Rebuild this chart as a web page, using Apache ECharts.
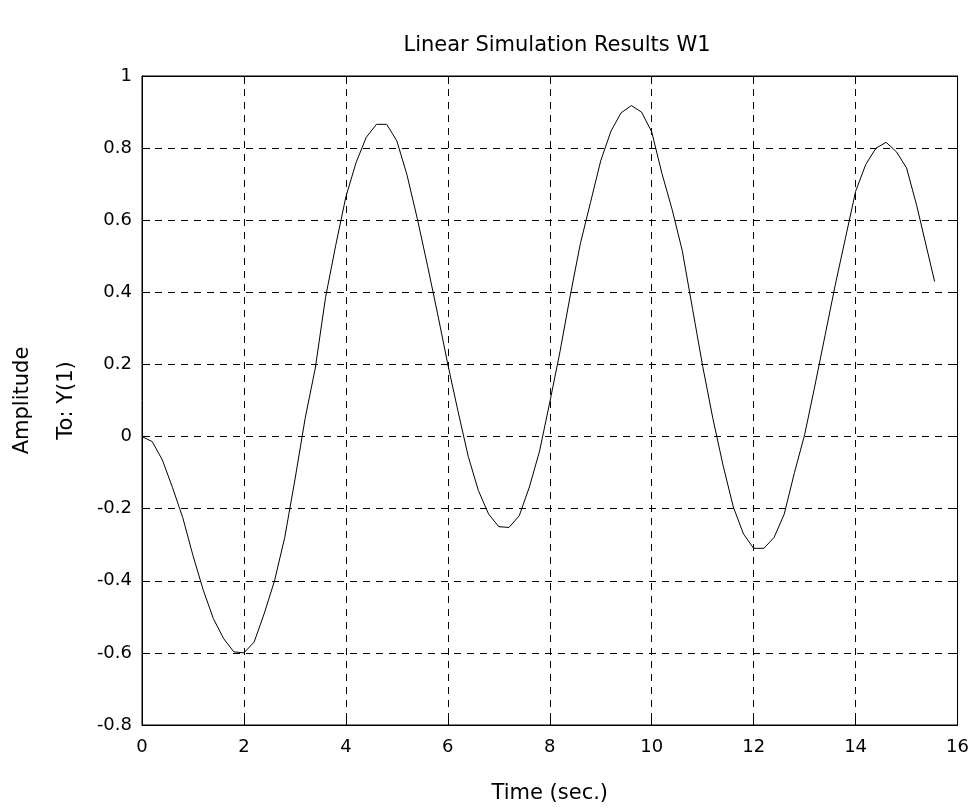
<!DOCTYPE html>
<html>
<head>
<meta charset="utf-8">
<script src="https://cdn.jsdelivr.net/npm/echarts@6/dist/echarts.min.js"></script>
<style>html,body{margin:0;padding:0;background:#fff}#c{width:972px;height:809px}</style>
</head>
<body>
<div id="c"></div>
<script>
const titleText = "Linear Simulation Results W1";
const xLabel = "Time (sec.)";
const yLabelOuter = "Amplitude";
const yLabelInner = "To: Y(1)";
const timeValues = [0,0.2,0.4,0.6,0.8,1.0,1.2,1.4,1.6,1.8,2.0,2.2,2.4,2.6,2.8,3.0,3.2,3.4,3.6,3.8,4.0,4.2,4.4,4.6,4.8,5.0,5.2,5.4,5.6,5.8,6.0,6.2,6.4,6.6,6.8,7.0,7.2,7.4,7.6,7.8,8.0,8.2,8.4,8.6,8.8,9.0,9.2,9.4,9.6,9.8,10.0,10.2,10.4,10.6,10.8,11.0,11.2,11.4,11.6,11.8,12.0,12.2,12.4,12.6,12.8,13.0,13.2,13.4,13.6,13.8,14.0,14.2,14.4,14.6,14.8,15.0,15.2,15.4,15.55];
const amplitudeValues = [0,-0.014,-0.065,-0.142,-0.225,-0.33,-0.425,-0.505,-0.56,-0.597,-0.60,-0.57,-0.49,-0.40,-0.28,-0.12,0.05,0.19,0.385,0.53,0.665,0.76,0.83,0.866,0.866,0.82,0.725,0.605,0.475,0.34,0.20,0.07,-0.055,-0.15,-0.215,-0.25,-0.252,-0.22,-0.14,-0.04,0.095,0.235,0.39,0.535,0.65,0.765,0.847,0.898,0.918,0.90,0.845,0.73,0.63,0.515,0.355,0.195,0.05,-0.08,-0.195,-0.27,-0.31,-0.31,-0.28,-0.215,-0.10,0.005,0.14,0.28,0.42,0.55,0.68,0.755,0.80,0.816,0.79,0.745,0.64,0.52,0.43];
const xTicks = [0,2,4,6,8,10,12,14,16];
const yTicks = [-0.8,-0.6,-0.4,-0.2,0,0.2,0.4,0.6,0.8,1];

const font = "'DejaVu Sans', 'Liberation Sans', sans-serif";
const chart = echarts.init(document.getElementById('c'), null, {renderer:'canvas'});
const data = timeValues.map((t,i)=>[t, amplitudeValues[i]]);
const fmt = v => String(parseFloat(Number(v).toFixed(1)));
const dash = {color:'#000', width:1, type:[7,6]};
const tickFont = {fontFamily:font, fontSize:18, color:'#000'};
const nameFont = {fontFamily:font, fontSize:21, color:'#000'};
chart.setOption({
  animation:false,
  backgroundColor:'#fff',
  title:{text:titleText, left:552, top:30, textAlign:'center',
    textStyle:Object.assign({fontWeight:'normal'}, nameFont)},
  grid:{left:142, right:14, top:76, bottom:83, show:true, borderColor:'#000', borderWidth:1},
  xAxis:[{
    type:'value', min:xTicks[0], max:xTicks[xTicks.length-1], interval:2,
    name:xLabel, nameLocation:'middle', nameGap:58,
    nameTextStyle:nameFont,
    axisLine:{show:true, onZero:false, lineStyle:{color:'#000', width:1}},
    axisTick:{show:true, inside:true, length:8, lineStyle:{color:'#000'}},
    axisLabel:Object.assign({margin:13, formatter:fmt}, tickFont),
    splitLine:{show:true, lineStyle:dash}
  },{
    type:'value', position:'top', min:0, max:16, interval:2,
    axisLine:{show:true, onZero:false, lineStyle:{color:'#000'}},
    axisTick:{show:true, inside:true, length:8, lineStyle:{color:'#000'}},
    axisLabel:{show:false}, splitLine:{show:false}
  }],
  yAxis:[{
    type:'value', min:yTicks[0], max:yTicks[yTicks.length-1], interval:0.2,
    name:yLabelInner, nameLocation:'middle', nameGap:65, nameRotate:90,
    nameTextStyle:nameFont,
    axisLine:{show:true, onZero:false, lineStyle:{color:'#000', width:1}},
    axisTick:{show:true, inside:true, length:8, lineStyle:{color:'#000'}},
    axisLabel:Object.assign({margin:10, formatter:fmt}, tickFont),
    splitLine:{show:true, lineStyle:dash}
  },{
    type:'value', position:'right', min:-0.8, max:1, interval:0.2,
    axisLine:{show:true, onZero:false, lineStyle:{color:'#000'}},
    axisTick:{show:true, inside:true, length:8, lineStyle:{color:'#000'}},
    axisLabel:{show:false}, splitLine:{show:false}
  },{
    type:'value', position:'left', min:-0.8, max:1, interval:0.2,
    name:yLabelOuter, nameLocation:'middle', nameGap:109, nameRotate:90,
    nameTextStyle:nameFont,
    axisLine:{show:false, onZero:false}, axisTick:{show:false}, axisLabel:{show:false}, splitLine:{show:false}
  }],
  series:[{
    type:'line', data:data, xAxisIndex:0, yAxisIndex:0,
    showSymbol:false, smooth:false,
    lineStyle:{color:'#000', width:1}
  }]
});
</script>
</body>
</html>
